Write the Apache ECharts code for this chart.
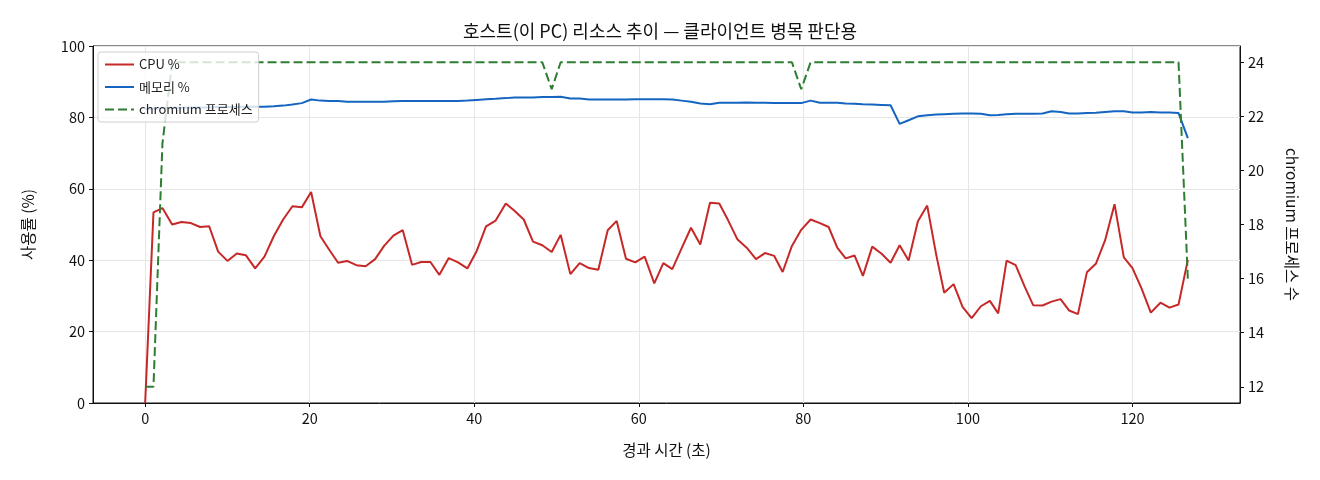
<!DOCTYPE html>
<html>
<head>
<meta charset="utf-8">
<script src="https://cdn.jsdelivr.net/npm/echarts@6/dist/echarts.min.js"></script>
<style>
  html, body { margin: 0; padding: 0; background: #fff; }
  #main { width: 1320px; height: 480px; }
</style>
</head>
<body>
<div id="main"></div>
<script>
// elapsed time of each sample (s)
const times = [
  0.0, 1.01, 2.1, 3.28, 4.41, 5.55, 6.68, 7.78, 8.87, 10.0,
  11.14, 12.23, 13.37, 14.5, 15.63, 16.77, 17.9, 19.04, 20.17, 21.3,
  22.35, 23.45, 24.54, 25.67, 26.8, 27.95, 29.04, 30.17, 31.31, 32.44,
  33.54, 34.67, 35.76, 36.9, 38.03, 39.16, 40.3, 41.43, 42.6, 43.83,
  44.92, 46.01, 47.14, 48.27, 49.41, 50.5, 51.68, 52.81, 53.95, 55.08,
  56.22, 57.31, 58.44, 59.57, 60.71, 61.88, 62.98, 64.07, 65.21, 66.34,
  67.47, 68.65, 69.78, 70.87, 71.97, 73.11, 74.24, 75.33, 76.46, 77.48,
  78.61, 79.74, 80.88, 82.01, 83.07, 84.12, 85.14, 86.23, 87.24, 88.37,
  89.51, 90.6, 91.7, 92.79, 93.92, 95.05, 96.15, 97.12, 98.26, 99.35,
  100.45, 101.58, 102.67, 103.68, 104.7, 105.8, 106.9, 107.93, 109.07, 110.17,
  111.26, 112.31, 113.37, 114.46, 115.55, 116.68, 117.82, 118.95, 120.0, 121.1,
  122.23, 123.4, 124.5, 125.6, 126.73
];

const cpu = [
  0, 53.4, 54.6, 50.0, 50.7, 50.4, 49.3, 49.5, 42.4, 39.8,
  41.9, 41.4, 37.7, 41.0, 46.7, 51.4, 55.1, 54.8, 59.1, 46.7,
  43.0, 39.3, 39.8, 38.6, 38.3, 40.3, 44.0, 46.9, 48.4, 38.7,
  39.5, 39.5, 35.9, 40.6, 39.4, 37.7, 42.6, 49.5, 51.1, 55.9,
  53.8, 51.4, 45.2, 44.2, 42.3, 47.1, 36.1, 39.2, 37.8, 37.3,
  48.4, 51.0, 40.4, 39.4, 41.0, 33.5, 39.2, 37.5, 43.4, 49.1,
  44.4, 56.1, 55.9, 51.1, 45.9, 43.5, 40.3, 42.0, 41.2, 36.7,
  44.0, 48.5, 51.4, 50.4, 49.3, 43.5, 40.5, 41.3, 35.6, 43.8,
  41.8, 39.3, 44.2, 39.9, 50.9, 55.3, 41.5, 30.9, 33.3, 26.9,
  23.8, 27.1, 28.6, 25.1, 39.9, 38.6, 32.6, 27.4, 27.3, 28.4,
  29.1, 25.9, 24.9, 36.6, 39.0, 45.6, 55.7, 40.8, 37.8, 32.1,
  25.3, 28.1, 26.7, 27.6, 40.1
];

const memory = [
  82.3, 82.5, 82.6, 82.7, 82.7, 82.8, 82.8, 82.8, 82.9, 82.9,
  82.9, 83.0, 83.0, 83.0, 83.1, 83.3, 83.6, 84.0, 85.0, 84.7,
  84.6, 84.6, 84.4, 84.4, 84.4, 84.4, 84.4, 84.5, 84.6, 84.6,
  84.6, 84.6, 84.6, 84.6, 84.6, 84.7, 84.9, 85.1, 85.2, 85.4,
  85.6, 85.6, 85.6, 85.7, 85.7, 85.8, 85.3, 85.3, 85.0, 85.0,
  85.0, 85.0, 85.0, 85.1, 85.1, 85.1, 85.1, 85.0, 84.7, 84.4,
  83.9, 83.7, 84.1, 84.1, 84.1, 84.2, 84.1, 84.1, 84.0, 84.0,
  84.0, 84.0, 84.7, 84.1, 84.1, 84.1, 83.9, 83.8, 83.7, 83.6,
  83.5, 83.4, 78.2, 79.2, 80.3, 80.6, 80.8, 80.9, 81.0, 81.1,
  81.1, 81.0, 80.6, 80.7, 80.9, 81.0, 81.0, 81.0, 81.1, 81.7,
  81.5, 81.1, 81.1, 81.2, 81.3, 81.5, 81.7, 81.7, 81.4, 81.4,
  81.5, 81.4, 81.4, 81.2, 74.2
];

const chromium = [
  12, 12, 21, 24, 24, 24, 24, 24, 24, 24,
  24, 24, 24, 24, 24, 24, 24, 24, 24, 24,
  24, 24, 24, 24, 24, 24, 24, 24, 24, 24,
  24, 24, 24, 24, 24, 24, 24, 24, 24, 24,
  24, 24, 24, 24, 23, 24, 24, 24, 24, 24,
  24, 24, 24, 24, 24, 24, 24, 24, 24, 24,
  24, 24, 24, 24, 24, 24, 24, 24, 24, 24,
  24, 23, 24, 24, 24, 24, 24, 24, 24, 24,
  24, 24, 24, 24, 24, 24, 24, 24, 24, 24,
  24, 24, 24, 24, 24, 24, 24, 24, 24, 24,
  24, 24, 24, 24, 24, 24, 24, 24, 24, 24,
  24, 24, 24, 24, 16
];

const xTicks = [0, 20, 40, 60, 80, 100, 120];
const rightTicks = [12, 14, 16, 18, 20, 22, 24];

const FONT = '"Noto Sans CJK KR", "Noto Sans", sans-serif';
const pairs = (ys) => ys.map((v, i) => [times[i], v]);

const chart = echarts.init(document.getElementById('main'));

chart.setOption({
  animation: false,
  backgroundColor: '#fff',
  textStyle: { fontFamily: FONT },
  title: {
    text: '호스트(이 PC) 리소스 추이 — 클라이언트 병목 판단용',
    left: 'center',
    top: 17,
    textStyle: { fontFamily: FONT, fontSize: 18, fontWeight: 'normal', color: '#111' }
  },
  grid: {
    left: 93, right: 80, top: 46, bottom: 77,
    show: true, borderColor: '#111', borderWidth: 1, backgroundColor: 'transparent'
  },
  legend: {
    orient: 'vertical',
    left: 98, top: 52,
    padding: [6, 6, 6, 6],
    itemWidth: 29, itemHeight: 14, itemGap: 9.5,
    itemStyle: { opacity: 0 },
    backgroundColor: 'rgba(255,255,255,0.8)',
    borderColor: '#d0d0d0', borderWidth: 1, borderRadius: 3,
    textStyle: { fontFamily: FONT, fontSize: 13, color: '#222' },
    data: ['CPU %', '메모리 %', 'chromium 프로세스']
  },
  xAxis: {
    type: 'value',
    min: -6.34, max: 133.07,
    name: '경과 시간 (초)',
    nameLocation: 'middle', nameGap: 39,
    nameTextStyle: { fontFamily: FONT, fontSize: 15.5, color: '#111' },
    axisLine: { show: true, onZero: false, lineStyle: { color: '#111' } },
    axisTick: { show: true, length: 4, customValues: xTicks, lineStyle: { color: '#111' } },
    axisLabel: { customValues: xTicks, fontFamily: FONT, fontSize: 14.5, color: '#111', margin: 8 },
    splitLine: { show: true, lineStyle: { color: '#e6e6e6' } }
  },
  yAxis: [
    {
      type: 'value',
      min: 0, max: 100, interval: 20,
      name: '사용률 (%)',
      nameLocation: 'middle', nameGap: 57,
      nameTextStyle: { fontFamily: FONT, fontSize: 15.5, color: '#111' },
      axisLine: { show: true, onZero: false, lineStyle: { color: '#111' } },
      axisTick: { show: true, length: 4, lineStyle: { color: '#111' } },
      axisLabel: { fontFamily: FONT, fontSize: 14.5, color: '#111', margin: 8 },
      splitLine: { show: true, lineStyle: { color: '#e6e6e6' } }
    },
    {
      type: 'value',
      min: 11.4, max: 24.6,
      position: 'right',
      name: 'chromium 프로세스 수',
      nameLocation: 'middle', nameGap: 44, nameRotate: -90,
      nameTextStyle: { fontFamily: FONT, fontSize: 15.5, color: '#111' },
      axisLine: { show: true, onZero: false, lineStyle: { color: '#111' } },
      axisTick: { show: true, length: 4, customValues: rightTicks, lineStyle: { color: '#111' } },
      axisLabel: { customValues: rightTicks, fontFamily: FONT, fontSize: 14.5, color: '#111', margin: 8 },
      splitLine: { show: false }
    }
  ],
  series: [
    {
      name: 'CPU %', type: 'line', yAxisIndex: 0,
      data: pairs(cpu), symbol: 'none',
      lineStyle: { color: '#c62828', width: 2 }, itemStyle: { color: '#c62828' }
    },
    {
      name: '메모리 %', type: 'line', yAxisIndex: 0,
      data: pairs(memory), symbol: 'none',
      lineStyle: { color: '#1565c0', width: 2 }, itemStyle: { color: '#1565c0' }
    },
    {
      name: 'chromium 프로세스', type: 'line', yAxisIndex: 1,
      data: pairs(chromium), symbol: 'none',
      lineStyle: { color: '#2e7d32', width: 2, type: [9, 4] }, itemStyle: { color: '#2e7d32' }
    }
  ]
});

window.addEventListener('resize', () => {
  chart.resize();
});
</script>
</body>
</html>
